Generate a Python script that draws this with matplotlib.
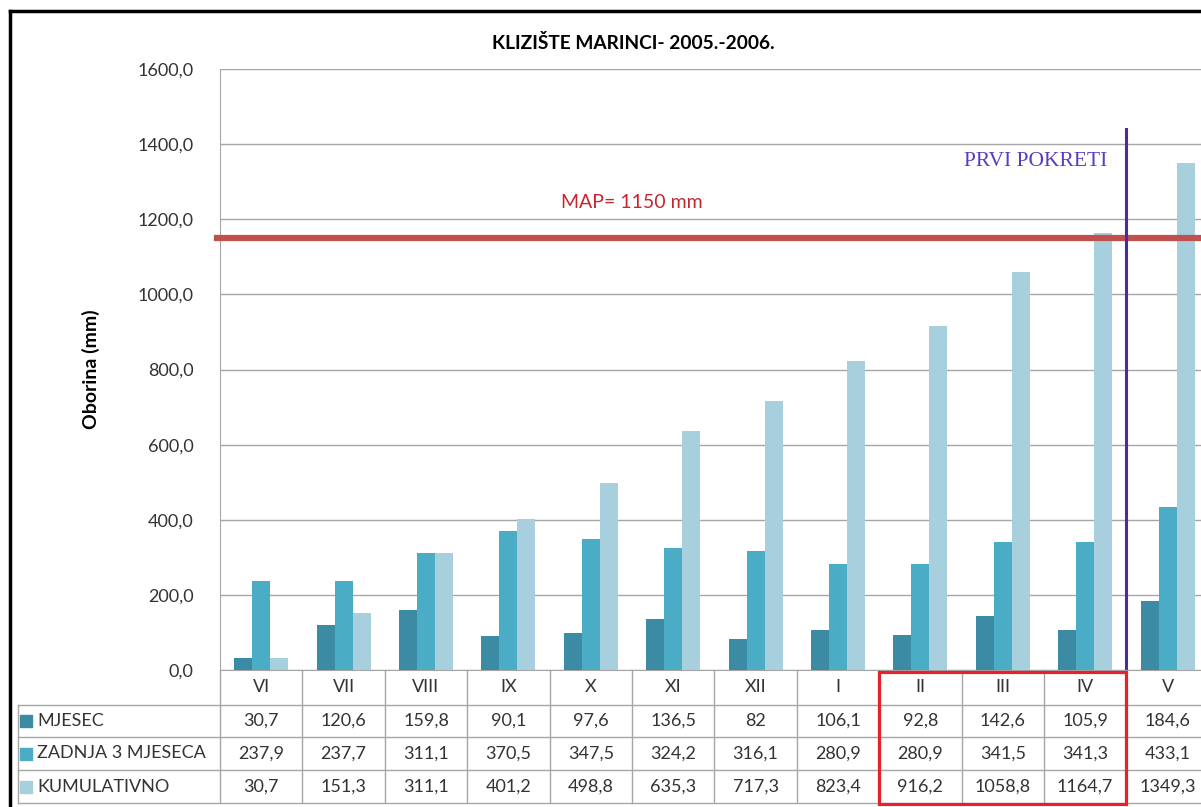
import numpy as np
import matplotlib.pyplot as plt
import matplotlib.patheffects as pe

# mjesecne oborine, klizište Marinci 2005.-2006.
mjeseci = ['VI', 'VII', 'VIII', 'IX', 'X', 'XI', 'XII', 'I', 'II', 'III', 'IV', 'V']
mjesec = [30.7, 120.6, 159.8, 90.1, 97.6, 136.5, 82, 106.1, 92.8, 142.6, 105.9, 184.6]
zadnja3 = [237.9, 237.7, 311.1, 370.5, 347.5, 324.2, 316.1, 280.9, 280.9, 341.5, 341.3, 433.1]
kumulativno = [30.7, 151.3, 311.1, 401.2, 498.8, 635.3, 717.3, 823.4, 916.2, 1058.8, 1164.7, 1349.3]
serije = ['MJESEC', 'ZADNJA 3 MJESECA', 'KUMULATIVNO']
map_mm = 1150
prvi_pokreti = 10.5  # izmedju IV i V

boje = ['#3a8ba3', '#4bacc6', '#a7cfdd']
siva = '#a6a6a6'
tekst = '#333333'

plt.rcParams['font.family'] = ['Lato', 'DejaVu Sans']

W, H = 1201, 807
fig = plt.figure(figsize=(W/100, H/100), dpi=100)

def fmt(v):
    if float(v).is_integer():
        return str(int(v))
    return ('%.1f' % v).replace('.', ',')

# graf
ax = fig.add_axes([220/W, 137/H, 988.8/W, 601/H])
x = np.arange(len(mjeseci))
bw = 0.218
for k, (vals, c) in enumerate(zip([mjesec, zadnja3, kumulativno], boje)):
    ax.bar(x + (k-1)*bw, vals, bw, color=c, zorder=3)

ax.set_xlim(-0.5, len(mjeseci)-0.5)
ax.set_ylim(0, 1600)
yt = np.arange(0, 1601, 200)
ax.set_yticks(yt)
ax.set_yticklabels([('%.1f' % v).replace('.', ',') for v in yt], fontsize=13, color=tekst)
ax.tick_params(axis='y', length=0, pad=19)
ax.set_xticks([])
ax.grid(axis='y', color=siva, lw=1, zorder=0)
for s in ['top', 'right']:
    ax.spines[s].set_visible(False)
ax.spines['left'].set_color(siva)
ax.spines['bottom'].set_color(siva)
ax.set_ylabel('Oborina (mm)', fontsize=14, fontweight='bold', labelpad=27)

# MAP linija
ax.axhline(map_mm, xmin=-0.003, color='#c0504d', lw=4.5, zorder=4, clip_on=False,
           path_effects=[pe.SimplePatchShadow(offset=(0, -2), alpha=0.3), pe.Normal()])
ax.text(4.5, 1245, 'MAP= 1150 mm', color='#c8262e', fontsize=14, ha='center', va='center')

# prvi pokreti
ax.plot([prvi_pokreti, prvi_pokreti], [0, 1440], color='#4b2aa8', lw=2.2, zorder=5)
ax.text(10.27, 1355, 'PRVI POKRETI', color='#5a3cc0', fontsize=15.5,
        family='Liberation Serif', ha='right', va='center')

fig.text(633/W, 1-43/H, 'KLIZIŠTE MARINCI- 2005.-2006.', fontsize=13.8,
         fontweight='bold', ha='center', va='center')

# tablica s podacima
tb = fig.add_axes([220/W, 4/H, 988.8/W, 133/H])
tb.set_xlim(-0.5, len(mjeseci)-0.5)
tb.set_ylim(0, 133)
tb.axis('off')
lijevo = -0.5 - 202/82.4
redovi = [82, 49.5, 16.5]
for yy in [0, 33, 66, 98]:
    tb.plot([lijevo, len(mjeseci)-0.5], [yy, yy], color=siva, lw=1, clip_on=False)
tb.plot([lijevo, lijevo], [0, 98], color=siva, lw=1, clip_on=False)
for b in np.arange(-0.5, len(mjeseci), 1.0):
    tb.plot([b, b], [0, 133], color=siva, lw=1, clip_on=False)

for i, m in enumerate(mjeseci):
    tb.text(i, 115.5, m, fontsize=13, color=tekst, ha='center', va='center')
    for yy, vals in zip(redovi, [mjesec, zadnja3, kumulativno]):
        tb.text(i, yy, fmt(vals[i]), fontsize=13, color=tekst, ha='center', va='center')

for yy, naziv, c in zip(redovi, serije, boje):
    tb.scatter([lijevo + 0.1], [yy], marker='s', s=70, color=c, clip_on=False)
    tb.text(lijevo + 0.23, yy, naziv, fontsize=13, color=tekst, ha='left', va='center')

# okvir oko II-IV
tb.add_patch(plt.Rectangle((7.5, -1), 3.0, 132, fill=False, ec='#e8202a', lw=2.3,
                           clip_on=False, zorder=6))

# okvir slike
fig.add_artist(plt.Line2D([10/W, 10/W], [0, 1-11/H], color='black', lw=2.5))
fig.add_artist(plt.Line2D([10/W, 1], [1-11/H, 1-11/H], color='black', lw=2.5))

fig.savefig('out.png', dpi=100)
